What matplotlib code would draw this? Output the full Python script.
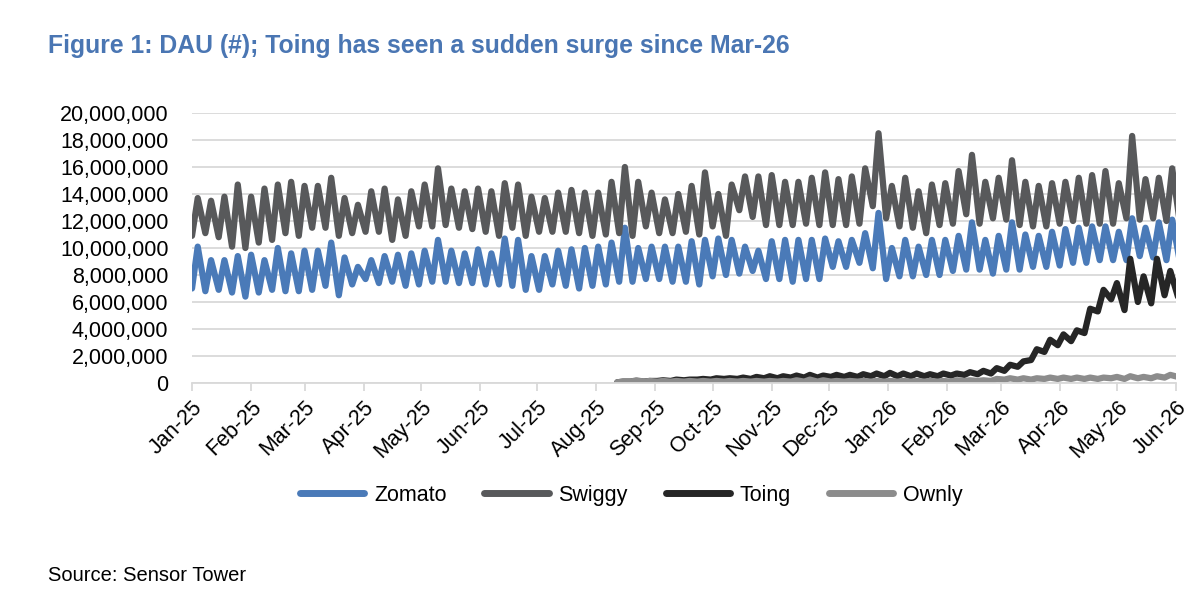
import numpy as np
import matplotlib
matplotlib.use("Agg")
import matplotlib.pyplot as plt
import matplotlib.dates as mdates
from matplotlib.ticker import FuncFormatter, MultipleLocator

plt.rcParams['font.family'] = ['Liberation Sans', 'DejaVu Sans']

# ---------------- data (millions of daily active users) ----------------
# Zomato / Swiggy: weekly low and weekly high, weeks starting 1-Jan-2025
swiggy_low = [10.9, 11.1, 10.8, 10.1, 10.0, 10.4, 10.6, 11.1, 10.9, 11.5, 11.5, 10.9, 11.1, 11.2, 11.2, 10.6,
              10.9, 11.6, 11.6, 11.7, 11.5, 11.4, 11.2, 10.9,
              11.5, 10.9, 11.2, 11.2, 11.2, 11.1, 10.9, 11.0, 11.1, 10.9, 11.6, 11.1, 11.1, 11.2, 11.0, 11.6,
              10.9, 12.8, 12.3, 11.7, 11.7, 11.7, 11.8, 11.7,
              11.7, 11.7, 11.8, 13.1, 12.2, 11.6, 11.5, 11.1, 11.7, 11.8, 12.5, 11.8, 12.2, 12.1, 11.7, 11.6,
              11.6, 11.8, 12.0, 11.8, 11.8, 11.8, 12.2, 12.1, 12.2, 12.0, 11.9]
swiggy_high = [13.7, 13.5, 13.8, 14.7, 13.8, 14.4, 14.7, 14.9, 14.6, 14.6, 15.2, 13.7, 13.2, 14.2, 14.4, 13.6,
               14.2, 14.7, 15.9, 14.4, 14.2, 14.4, 14.2, 14.8,
               14.7, 13.8, 13.7, 14.1, 14.3, 14.1, 14.1, 14.9, 16.0, 14.9, 14.1, 13.6, 14.0, 14.6, 15.6, 14.0,
               14.7, 15.3, 15.3, 15.4, 14.9, 14.9, 15.2, 15.6,
               15.1, 15.3, 15.9, 18.5, 14.6, 15.2, 14.2, 14.7, 14.8, 15.7, 16.9, 14.9, 15.2, 16.5, 14.9, 14.6,
               14.8, 14.9, 15.2, 15.4, 15.7, 14.8, 18.3, 15.1, 15.2, 15.9]
zomato_low = [7.0, 6.8, 6.9, 6.7, 6.4, 6.7, 6.9, 6.8, 6.8, 6.9, 7.2, 6.5, 7.3, 7.7, 7.4, 7.5,
              7.2, 7.3, 7.5, 7.5, 7.4, 7.4, 7.3, 7.3,
              7.2, 6.9, 6.9, 7.3, 7.2, 7.0, 7.2, 7.3, 7.5, 7.5, 7.7, 7.7, 7.5, 7.5, 7.3, 7.9,
              8.0, 8.1, 8.3, 7.7, 7.7, 7.5, 7.7, 7.7,
              8.6, 8.6, 8.9, 8.5, 7.7, 7.9, 7.9, 8.0, 8.0, 8.3, 8.4, 8.4, 8.1, 8.4, 8.4, 8.6,
              8.6, 8.7, 8.9, 8.9, 9.1, 9.1, 9.1, 9.4, 9.3, 9.1, 9.0]
zomato_high = [10.1, 9.1, 9.1, 9.4, 9.5, 9.1, 10.0, 9.6, 9.8, 9.8, 10.4, 9.3, 8.6, 9.1, 9.4, 9.5,
               9.6, 9.8, 10.6, 9.8, 9.6, 9.9, 9.6, 10.7,
               10.6, 9.4, 9.4, 9.8, 9.9, 10.0, 10.1, 10.4, 11.5, 10.0, 10.1, 10.1, 10.1, 10.5, 10.6, 10.7,
               10.6, 10.1, 9.8, 10.5, 10.6, 10.6, 10.6, 10.7,
               10.5, 10.6, 11.1, 12.6, 10.0, 10.6, 10.1, 10.6, 10.6, 10.9, 11.9, 10.6, 10.9, 11.9, 11.0, 10.9,
               11.2, 11.4, 11.5, 11.6, 11.6, 11.2, 12.2, 11.5, 11.9, 12.1]

# Toing / Ownly: weekly low and weekly high, weeks starting 12-Aug-2025
toing_low = [0.05, 0.1, 0.1, 0.15, 0.15, 0.2, 0.25, 0.25, 0.3, 0.3, 0.3, 0.35, 0.35, 0.4, 0.4, 0.4,
             0.45, 0.45, 0.45, 0.5, 0.5, 0.5, 0.5, 0.5, 0.5, 0.55, 0.6, 0.65, 0.7, 0.9, 1.2, 1.7,
             2.3, 2.8, 3.1, 3.7, 5.3, 6.2, 5.4, 6.0, 5.9, 6.5, 6.4]
toing_high = [0.1, 0.15, 0.15, 0.2, 0.25, 0.25, 0.3, 0.35, 0.35, 0.4, 0.45, 0.5, 0.5, 0.55, 0.6, 0.55,
              0.6, 0.6, 0.65, 0.7, 0.75, 0.7, 0.7, 0.65, 0.7, 0.7, 0.8, 0.9, 1.1, 1.35, 1.6, 2.5,
              3.2, 3.6, 3.9, 5.5, 6.9, 7.4, 9.2, 7.9, 9.2, 8.3]
ownly_low = [0.05, 0.1, 0.1, 0.1, 0.1, 0.1, 0.1, 0.1, 0.1, 0.1, 0.1, 0.1, 0.1, 0.1, 0.1, 0.1,
             0.1, 0.1, 0.1, 0.1, 0.1, 0.1, 0.1, 0.1, 0.1, 0.1, 0.15, 0.15, 0.15, 0.25, 0.25, 0.25,
             0.3, 0.3, 0.3, 0.3, 0.3, 0.35, 0.3, 0.35, 0.35, 0.4, 0.45]
ownly_high = [0.1, 0.2, 0.15, 0.15, 0.15, 0.15, 0.15, 0.15, 0.15, 0.15, 0.15, 0.15, 0.15, 0.2, 0.25, 0.2,
              0.15, 0.15, 0.15, 0.15, 0.15, 0.15, 0.15, 0.15, 0.15, 0.2, 0.2, 0.2, 0.3, 0.35, 0.35, 0.35,
              0.4, 0.4, 0.4, 0.4, 0.4, 0.45, 0.5, 0.45, 0.5, 0.6]

series_names = ["Zomato", "Swiggy", "Toing", "Ownly"]
series_start = ["2025-01-01", "2025-01-01", "2025-08-12", "2025-08-12"]
x_start, x_end = "2025-01-01", "2026-06-01"
title = "Figure 1: DAU (#); Toing has seen a sudden surge since Mar-26"
source = "Source: Sensor Tower"

colors = ["#4a7ab8", "#58595b", "#262626", "#8c8c8c"]


def weekly_series(start, low, high):
    base = np.datetime64(start)
    n = min(len(high), len(low) - 1)
    dates, vals = [], []
    for i in range(n):
        dates += [base + np.timedelta64(7 * i, 'D'), base + np.timedelta64(7 * i + 3, 'D')]
        vals += [low[i], high[i]]
    dates.append(base + np.timedelta64(7 * n, 'D'))
    vals.append(low[n])
    return np.array(dates, dtype='datetime64[D]'), np.array(vals) * 1e6


data = [(zomato_low, zomato_high), (swiggy_low, swiggy_high), (toing_low, toing_high), (ownly_low, ownly_high)]

fig = plt.figure(figsize=(12, 5.96), dpi=100)
ax = fig.add_axes([0.16, 0.3574, 0.82, 0.4530])

handles = []
for name, start, (lo, hi), col in zip(series_names, series_start, data, colors):
    d, v = weekly_series(start, lo, hi)
    h, = ax.plot(d, v, color=col, lw=4.5, solid_joinstyle='round', solid_capstyle='round', label=name)
    handles.append(h)

ax.set_xlim(np.datetime64(x_start), np.datetime64(x_end))
ax.set_ylim(0, 20e6)
ax.yaxis.set_major_locator(MultipleLocator(2e6))
ax.yaxis.set_major_formatter(FuncFormatter(lambda v, p: f"{int(round(v)):,}"))
ax.grid(axis='y', color='#d9d9d9', lw=1.3)
ax.set_axisbelow(True)
for s in ['left', 'right', 'top']:
    ax.spines[s].set_visible(False)
ax.spines['bottom'].set_color('#d9d9d9')
ax.spines['bottom'].set_linewidth(1.3)

ax.xaxis.set_major_locator(mdates.MonthLocator())
ax.xaxis.set_major_formatter(mdates.DateFormatter('%b-%y'))
ax.tick_params(axis='x', direction='out', length=6, width=1.3, color='#d9d9d9', pad=4, labelsize=15.5)
ax.tick_params(axis='y', length=0, pad=17, labelsize=15.5)
for lab in ax.get_xticklabels():
    lab.set_rotation(45)
    lab.set_ha('right')
    lab.set_va('top')
    lab.set_rotation_mode('anchor')

fig.text(0.04, 0.922, title, fontsize=17.8, fontweight='bold', color='#4a76b3', va='center', ha='left')
fig.text(0.04, 0.035, source, fontsize=14.5, color='black', va='center', ha='left')

leg = fig.legend(handles=handles, loc='center', bbox_to_anchor=(0.526, 0.169), ncol=4, frameon=False,
                 fontsize=15.5, handlelength=3.0, handletextpad=0.45, columnspacing=1.75)
for lh in leg.get_lines():
    lh.set_linewidth(5)
    lh.set_solid_capstyle('round')

fig.savefig("out.png", dpi=100)
